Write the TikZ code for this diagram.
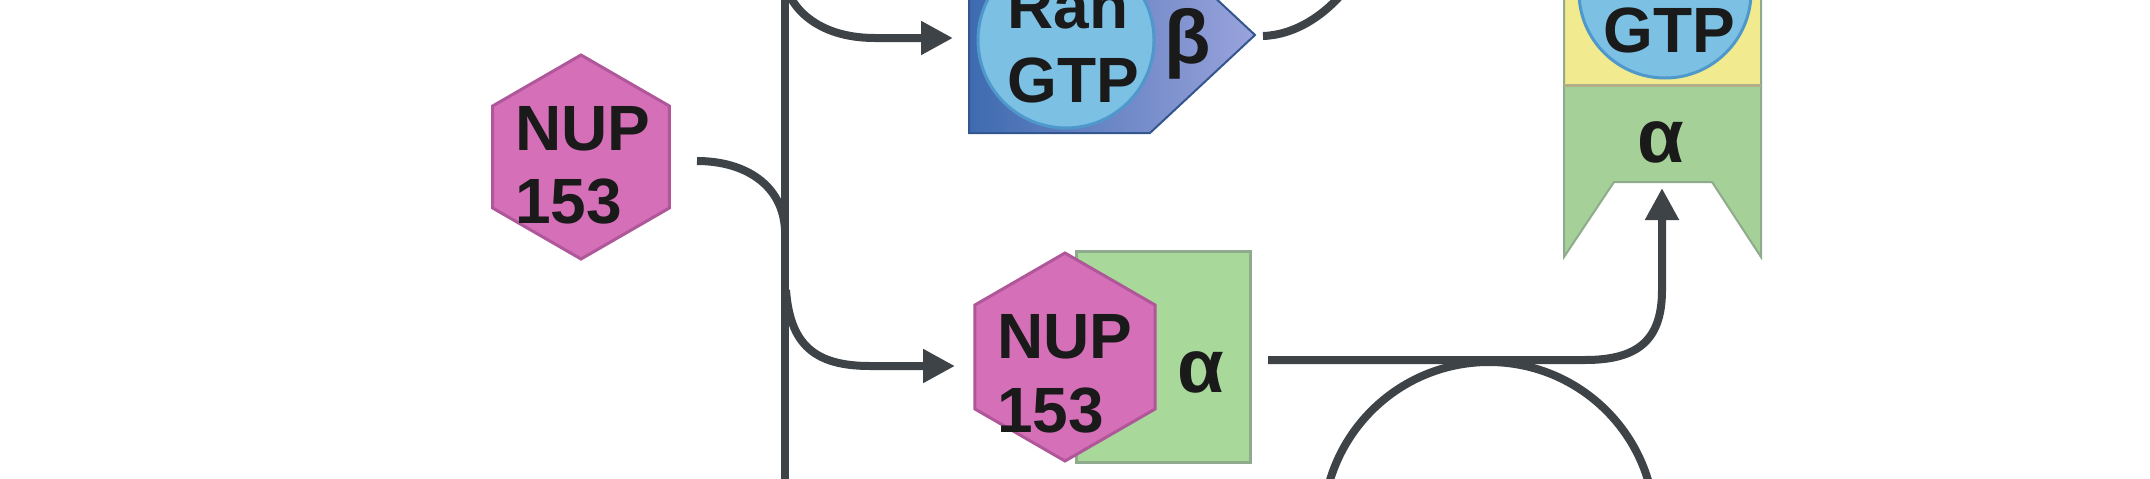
\documentclass[tikz,border=0pt]{standalone}
\usepackage{fontspec}
\setmainfont{Liberation Sans}
\usetikzlibrary{arrows.meta,calc}
\definecolor{conncol}{HTML}{3D4347}
\definecolor{pinkfill}{HTML}{D570B8}
\definecolor{pinkedge}{HTML}{B0579A}
\definecolor{greenfill}{HTML}{A8D89A}
\definecolor{greenedge}{HTML}{8FAA8C}
\definecolor{bluecirc}{HTML}{7CC0E4}
\definecolor{bluecircedge}{HTML}{4E98CC}
\definecolor{bluedark}{HTML}{3E6BB0}
\definecolor{bluelav}{HTML}{9AA3DC}
\definecolor{yellowfill}{HTML}{F2EA8E}
\definecolor{txtcol}{HTML}{1A1A1A}
\newcommand\myhex[3]{\filldraw[#3] ($(#1)+(90:#2)$) -- ($(#1)+(30:#2)$) -- ($(#1)+(-30:#2)$) -- ($(#1)+(-90:#2)$) -- ($(#1)+(-150:#2)$) -- ($(#1)+(150:#2)$) -- cycle;}
\tikzset{
  conn/.style={draw=conncol, line width=8pt},
  arr/.style={conn, -{Triangle[length=32pt,width=32pt]}},
  lbl/.style={inner sep=0pt, text=txtcol, font=\bfseries\fontsize{64}{70}\selectfont},
  grk/.style={inner sep=0pt, text=txtcol, font=\bfseries\fontsize{76}{80}\selectfont},
  pinkhex/.style={fill=pinkfill, draw=pinkedge, line width=3pt},
}
\begin{document}
\begin{tikzpicture}[x=1pt,y=-1pt]
\useasboundingbox (0,0) rectangle (2150,479);
\clip (0,0) rectangle (2150,479);
\fill[white] (0,0) rectangle (2150,479);

% ---- left NUP153 hexagon
\coordinate (hexL) at (581,157);
\myhex{hexL}{102}{pinkhex}
\node[lbl, anchor=base west] (nupL1) at (515,150) {NUP};
\node[lbl, anchor=base west] (nupL2) at (515,223) {153};

% ---- Ran GTP beta (top middle)
\shade[left color=bluedark, right color=bluelav, draw=bluedark!80!black, line width=2pt]
  (969,-63) -- (1150,-63) -- (1255,35) -- (1150,133) -- (969,133) -- cycle;
\coordinate (ranC) at (1066,40);
\filldraw[fill=bluecirc, draw=bluecircedge, line width=3pt] (ranC) circle[radius=88];
\node[lbl, anchor=base west] (ran1) at (1007,28) {Ran};
\node[lbl, anchor=base west] (ran2) at (1007,102) {GTP};
\node[grk, anchor=base] (beta) at (1188,63) {β};

% ---- NUP153 alpha complex
\filldraw[fill=greenfill, draw=greenedge, line width=3pt] (1076,251) rectangle (1250,462);
\coordinate (hexC) at (1065,357);
\myhex{hexC}{104}{pinkhex}
\node[lbl, anchor=base west] (nupC1) at (997,358) {NUP};
\node[lbl, anchor=base west] (nupC2) at (997,432) {153};
\node[grk, anchor=base] (alphaC) at (1201,392) {α};

% ---- right box (GTP / alpha)
\fill[yellowfill] (1564,-5) rectangle (1761,85);
\coordinate (gtpC) at (1665,-8);
\filldraw[fill=bluecirc, draw=bluecircedge, line width=3pt] (gtpC) circle[radius=86];
\fill[greenfill!92!gray] (1564,85) -- (1761,85) -- (1761,257) -- (1712,182) -- (1614,182) -- (1564,257) -- cycle;
\draw[greenedge, line width=2pt, line join=miter]
  (1564,-5) -- (1564,257) -- (1614,182) -- (1712,182) -- (1761,257) -- (1761,-5);
\draw[yellowfill!60!black!70, line width=3pt] (1564,85) -- (1761,85);
\node[lbl, anchor=base] (gtpR) at (1669,52) {GTP};
\node[grk, anchor=base] (alphaR) at (1661,162) {α};

% ---- connectors
\coordinate (vtop) at (785,-10);
\coordinate (vbot) at (785,490);
\draw[conn] (vtop) -- (vbot);

\coordinate (nupLout) at (697,161);
\coordinate (join1) at (785,230);
\draw[conn] (nupLout) .. controls (745,161) and (783,185) .. (join1);

\coordinate (br1) at (786,-15);
\coordinate (ranIn) at (953,38);
\draw[arr] (br1) .. controls (790,5) and (815,38) .. (875,38) -- (ranIn);

\coordinate (br2) at (786,290);
\coordinate (cmpIn) at (955,366);
\draw[arr] (br2) .. controls (790,345) and (815,366) .. (870,366) -- (cmpIn);

\coordinate (betaOut) at (1263,36);
\coordinate (betaEnd) at (1345,-10);
\draw[conn] (betaOut) .. controls (1295,35) and (1325,15) .. (betaEnd);

\coordinate (cmpOut) at (1268,360);
\coordinate (boxIn) at (1662,188);
\draw[arr] (cmpOut) -- (1585,360) .. controls (1638,360) and (1662,340) .. (1662,290) -- (boxIn);

\coordinate (loopC) at (1489,528);
\draw[conn] (loopC) circle[radius=166];
\end{tikzpicture}
\end{document}
